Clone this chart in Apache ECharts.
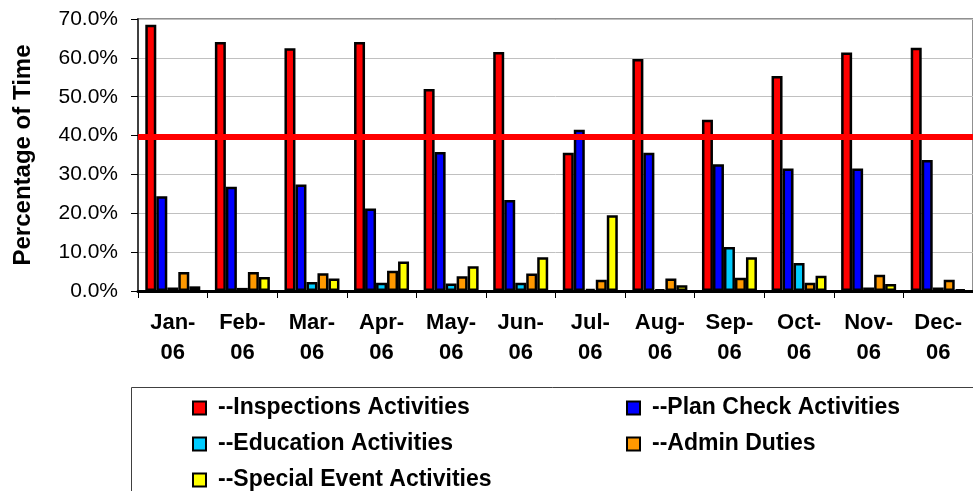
<!DOCTYPE html>
<html lang="en">
<head>
    <meta charset="UTF-8">
    <title>Percentage of Time</title>
    <script src="https://cdn.jsdelivr.net/npm/echarts@6/dist/echarts.min.js"></script>
    <style>
        body { margin: 0; background: #fff; }
    </style>
</head>
<body>
    <div id="main" style="width: 973px; height: 491px;"></div>
    <script>
        var months = ['Jan-06', 'Feb-06', 'Mar-06', 'Apr-06', 'May-06', 'Jun-06', 'Jul-06', 'Aug-06', 'Sep-06', 'Oct-06', 'Nov-06', 'Dec-06'];
        var inspections = [68.5, 64.1, 62.5, 64.1, 52.0, 61.5, 35.6, 59.7, 44.1, 55.3, 61.4, 62.6];
        var planCheck = [24.4, 26.8, 27.4, 21.2, 35.8, 23.4, 41.5, 35.6, 32.6, 31.5, 31.5, 33.7];
        var education = [0.9, 0.8, 2.3, 2.1, 1.9, 2.1, 0.5, 0.4, 11.3, 7.2, 0.9, 0.9];
        var admin = [4.9, 4.9, 4.6, 5.2, 3.8, 4.5, 2.9, 3.2, 3.4, 2.1, 4.2, 2.9];
        var specialEvents = [1.2, 3.6, 3.2, 7.6, 6.4, 8.7, 19.5, 1.5, 8.7, 3.9, 1.8, 0.4];
        var targetLine = 39.7;

        var seriesNames = ['--Inspections Activities', '--Plan Check Activities', '--Education Activities', '--Admin Duties', '--Special Event Activities'];
        var seriesData = [inspections, planCheck, education, admin, specialEvents];
        var colors = ['#FF0000', '#0000FF', '#00CCFF', '#FF9900', '#FFFF00'];

        var font = '"Liberation Sans", Arial, sans-serif';

        var series = seriesData.map(function (d, i) {
            var s = {
                name: seriesNames[i],
                type: 'bar',
                data: d,
                barWidth: 11,
                barGap: '0%',
                itemStyle: {
                    color: colors[i],
                    borderColor: '#000',
                    borderWidth: 2.5
                }
            };
            if (i === 0) {
                s.markLine = {
                    silent: true,
                    symbol: 'none',
                    label: { show: false },
                    lineStyle: { color: '#FF0000', width: 6, type: 'solid' },
                    data: [{ yAxis: targetLine }],
                    z: 10
                };
            }
            return s;
        });

        var myChart = echarts.init(document.getElementById('main'));
        var option = {
            animation: false,
            textStyle: { fontFamily: font },
            grid: {
                left: 138,
                top: 19,
                right: -3,
                bottom: 200,
                show: true,
                borderColor: '#909090',
                borderWidth: 2,
                backgroundColor: 'transparent'
            },
            legend: {
                left: 192,
                top: 395,
                width: 900,
                padding: 0,
                itemWidth: 13,
                itemHeight: 13,
                itemGap: 10,
                icon: 'rect',
                textStyle: {
                    fontFamily: font,
                    fontWeight: 'bold',
                    fontSize: 23,
                    color: '#000',
                    width: 398,
                    lineHeight: 26,
                    padding: [0, 0, 0, 7]
                },
                data: seriesNames
            },
            graphic: [{
                type: 'rect',
                shape: { x: 131.5, y: 387.5, width: 900, height: 200 },
                style: { fill: 'none', stroke: '#404040', lineWidth: 1 },
                silent: true
            }],
            xAxis: {
                type: 'category',
                data: months,
                axisLine: { lineStyle: { color: '#000', width: 3 } },
                axisTick: { show: true, length: 7, lineStyle: { color: '#000', width: 1 } },
                axisLabel: {
                    interval: 0,
                    margin: 17,
                    fontFamily: font,
                    fontWeight: 'bold',
                    fontSize: 22,
                    lineHeight: 30,
                    color: '#000',
                    formatter: function (v) { return v.replace('-', '-\n'); }
                }
            },
            yAxis: {
                type: 'value',
                min: 0,
                max: 70,
                interval: 10,
                name: 'Percentage of Time',
                nameLocation: 'middle',
                nameGap: 103,
                nameTextStyle: {
                    fontFamily: font,
                    fontWeight: 'bold',
                    fontSize: 24,
                    color: '#000'
                },
                axisLine: { show: true, lineStyle: { color: '#404040', width: 2 } },
                axisTick: { show: true, length: 7, lineStyle: { color: '#000', width: 1 } },
                axisLabel: {
                    margin: 20,
                    fontFamily: font,
                    fontSize: 21,
                    color: '#000',
                    formatter: function (v) { return v.toFixed(1) + '%'; }
                },
                splitLine: { lineStyle: { color: '#C0C0C0', width: 1 } }
            },
            series: series
        };
        myChart.setOption(option);
    </script>
</body>
</html>
